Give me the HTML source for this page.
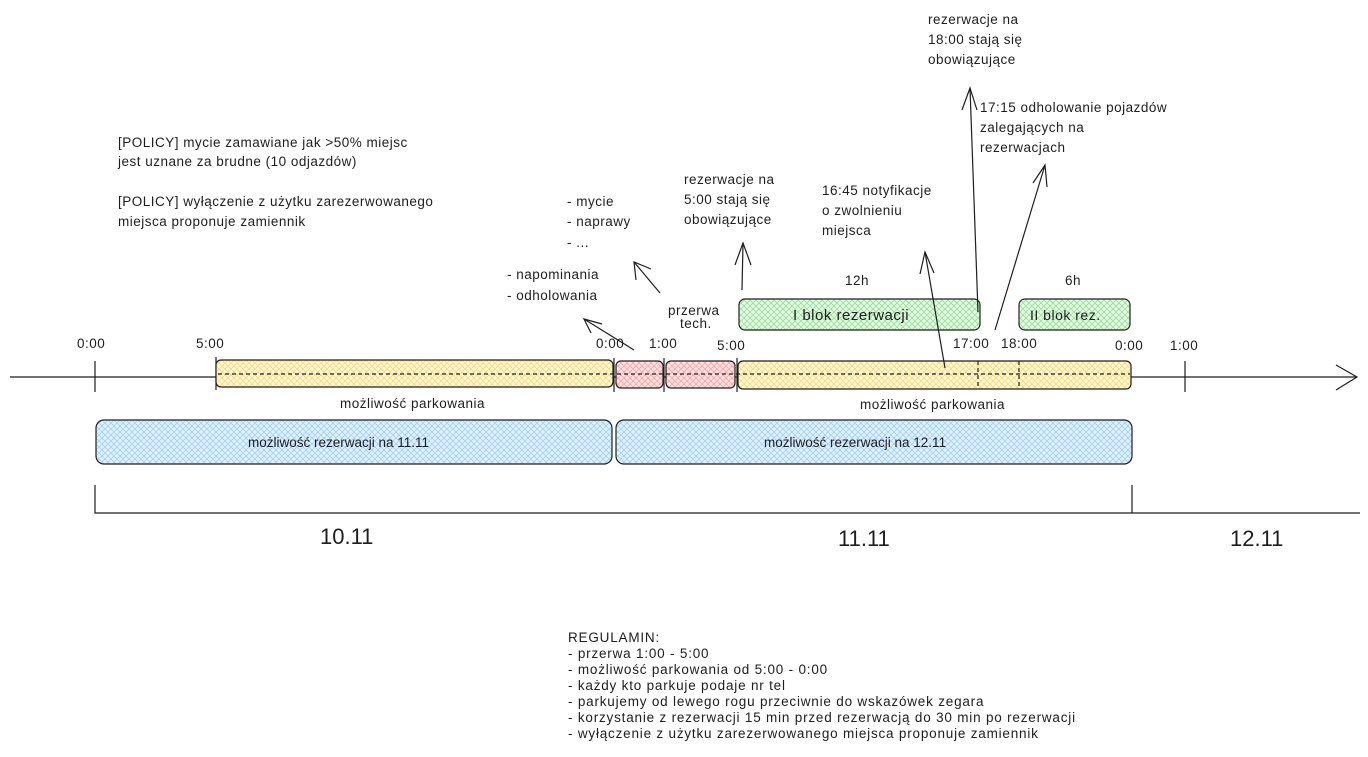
<!DOCTYPE html>
<html><head><meta charset="utf-8"><style>
body{margin:0;background:#fff;width:1368px;height:752px;overflow:hidden}
svg text{font-family:"Liberation Sans",sans-serif;fill:#1e1e1e}
</style></head><body>
<svg width="1368" height="752" viewBox="0 0 1368 752" xmlns="http://www.w3.org/2000/svg">
<defs>
<pattern id="hy" width="6" height="6" patternUnits="userSpaceOnUse"><rect width="6" height="6" fill="#fff7d6"/><path d="M0 0L6 6M6 0L0 6" stroke="#f5d66b" stroke-width="0.7"/></pattern>
<pattern id="hr" width="6" height="6" patternUnits="userSpaceOnUse"><rect width="6" height="6" fill="#ffe3e3"/><path d="M0 0L6 6M6 0L0 6" stroke="#ff9a9a" stroke-width="0.7"/></pattern>
<pattern id="hg" width="6" height="6" patternUnits="userSpaceOnUse"><rect width="6" height="6" fill="#e3f9e3"/><path d="M0 0L6 6M6 0L0 6" stroke="#8fdc8f" stroke-width="0.7"/></pattern>
<pattern id="hb" width="6" height="6" patternUnits="userSpaceOnUse"><rect width="6" height="6" fill="#dff0ff"/><path d="M0 0L6 6M6 0L0 6" stroke="#9acbf5" stroke-width="0.7"/></pattern>
</defs>
<g stroke="#1e1e1e" stroke-width="1.2" fill="none">
<line x1="10" y1="377" x2="1356" y2="377"/>
<path d="M1336 365L1357 377L1336 390"/>
<line x1="95" y1="361" x2="95" y2="392"/>
<line x1="1185" y1="361" x2="1185" y2="392"/>
<line x1="216" y1="357" x2="216" y2="390"/>
<line x1="614" y1="358" x2="614" y2="392"/>
<line x1="664" y1="358" x2="664" y2="392"/>
<line x1="737" y1="358" x2="737" y2="392"/>
<rect x="216" y="360" width="397" height="27" rx="5" fill="url(#hy)"/>
<rect x="616" y="361" width="47" height="27" rx="5" fill="url(#hr)"/>
<rect x="666" y="361" width="69" height="27" rx="5" fill="url(#hr)"/>
<rect x="738" y="361" width="393" height="28" rx="5" fill="url(#hy)"/>
<line x1="218" y1="374" x2="1130" y2="374" stroke-dasharray="4 3"/>
<line x1="978" y1="361" x2="978" y2="389" stroke-dasharray="4 3"/>
<line x1="1019" y1="361" x2="1019" y2="389" stroke-dasharray="4 3"/>
<rect x="739" y="299" width="241" height="31" rx="6" fill="url(#hg)"/>
<rect x="1019" y="299" width="111" height="31" rx="6" fill="url(#hg)"/>
<rect x="96" y="420" width="516" height="44" rx="8" fill="url(#hb)"/>
<rect x="616" y="420" width="516" height="44" rx="8" fill="url(#hb)"/>
<path d="M95 485V513H1360"/>
<line x1="1132" y1="485" x2="1132" y2="513"/>
<line x1="742" y1="290" x2="743" y2="243"/><path d="M735 265L743 243L751 265"/>
<line x1="660" y1="293" x2="634" y2="262"/><path d="M636 280L634 262L651 269"/>
<line x1="634" y1="350" x2="584" y2="319"/><path d="M591 333L584 319L602 324"/>
<line x1="978" y1="312" x2="970" y2="88"/><path d="M962 110L970 88L977 110"/>
<line x1="945" y1="368" x2="925" y2="252"/><path d="M920 274L925 252L934 273"/>
<line x1="995" y1="330" x2="1045" y2="165"/><path d="M1033 183L1045 165L1047 187"/>
</g>
<g font-size="13.5" letter-spacing="0.5">
<text x="77" y="348">0:00</text><text x="196" y="348">5:00</text>
<text x="596" y="348">0:00</text><text x="649" y="348">1:00</text>
<text x="717" y="350">5:00</text><text x="953" y="348">17:00</text>
<text x="1001" y="348">18:00</text><text x="1115" y="350">0:00</text>
<text x="1170" y="350">1:00</text>
<text x="845" y="285">12h</text><text x="1065" y="285">6h</text>
<text x="793" y="320" font-size="15">I blok rezerwacji</text>
<text x="1030" y="320" font-size="14">II blok rez.</text>
<text x="340" y="408">możliwość parkowania</text>
<text x="860" y="409">możliwość parkowania</text>
<text x="248" y="447" letter-spacing="0">możliwość rezerwacji na 11.11</text>
<text x="764" y="447" letter-spacing="0">możliwość rezerwacji na 12.11</text>
<text x="668" y="315">przerwa</text><text x="680" y="328">tech.</text>
<text x="507" y="279">- napominania</text><text x="507" y="300">- odholowania</text>
<text x="567" y="206">- mycie</text><text x="567" y="226">- naprawy</text><text x="567" y="247">- ...</text>
<text x="684" y="184">rezerwacje na</text><text x="684" y="204">5:00 stają się</text><text x="684" y="224">obowiązujące</text>
<text x="822" y="195">16:45 notyfikacje</text><text x="822" y="215">o zwolnieniu</text><text x="822" y="235">miejsca</text>
<text x="928" y="24">rezerwacje na</text><text x="928" y="44">18:00 stają się</text><text x="928" y="64">obowiązujące</text>
<text x="980" y="112">17:15 odholowanie pojazdów</text><text x="980" y="132">zalegających na</text><text x="980" y="152">rezerwacjach</text>
<text x="118" y="147">[POLICY] mycie zamawiane jak &gt;50% miejsc</text>
<text x="118" y="166">jest uznane za brudne (10 odjazdów)</text>
<text x="118" y="206">[POLICY] wyłączenie z użytku zarezerwowanego</text>
<text x="118" y="226">miejsca proponuje zamiennik</text>
</g>
<g font-size="22"><text x="320" y="544">10.11</text><text x="838" y="546">11.11</text><text x="1230" y="546">12.11</text></g>
<g font-size="13.5" letter-spacing="0.8">
<text x="568" y="642">REGULAMIN:</text>
<text x="568" y="658">- przerwa 1:00 - 5:00</text>
<text x="568" y="674">- możliwość parkowania od 5:00 - 0:00</text>
<text x="568" y="690">- każdy kto parkuje podaje nr tel</text>
<text x="568" y="706">- parkujemy od lewego rogu przeciwnie do wskazówek zegara</text>
<text x="568" y="722">- korzystanie z rezerwacji 15 min przed rezerwacją do 30 min po rezerwacji</text>
<text x="568" y="738">- wyłączenie z użytku zarezerwowanego miejsca proponuje zamiennik</text>
</g>
</svg>
</body></html>
